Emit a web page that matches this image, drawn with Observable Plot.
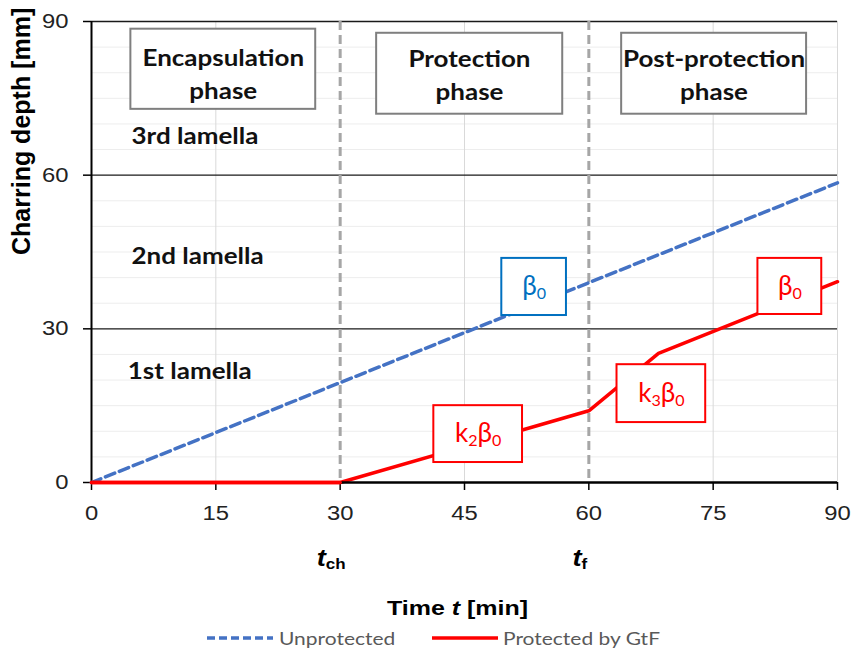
<!DOCTYPE html>
<html><head><meta charset="utf-8">
<script src="https://cdn.jsdelivr.net/npm/d3@7"></script>
<script src="https://cdn.jsdelivr.net/npm/@observablehq/plot@0.6"></script>
<style>
body{margin:0;background:#fff;}
#chart svg{display:block}
#legend{position:relative;height:31px;width:854px;font-family:Lato,"Open Sans",sans-serif;font-size:18px;line-height:20px;color:#595959;}
#legend .txt{position:absolute;top:6px;display:inline-block;transform:scaleX(1.165);transform-origin:left center;white-space:nowrap;}
#legend svg{position:absolute;top:0}
</style></head><body>
<div id="chart"></div>
<div id="legend"></div>
<script>
// ---------- data ----------
const unprotectedTime  = [0, 90];
const unprotectedDepth = [0, 58.5];
const protectedTime    = [0, 30, 60, 68.4, 90];
const protectedDepth   = [0, 0, 14, 25.2, 39.2];
const xTicks = [0, 15, 30, 45, 60, 75, 90];
const yTicks = [0, 30, 60, 90];
const lamellaBounds = [30, 60, 90];
const phaseTimes = [30, 60];
const phaseTimeLabels = ["*{t}_{ch}", "*{t}_{f}"];
const phaseNames = ["Encapsulation\nphase", "Protection\nphase", "Post-protection\nphase"];
const lamellaNames = ["3rd lamella", "2nd lamella", "1st lamella"];
const rateLabels = ["β_{0}", "k_{2}β_{0}", "k_{3}β_{0}", "β_{0}"];
const rateColors = ["#0070C0", "#FF0000", "#FF0000", "#FF0000"];
const seriesNames = ["Unprotected", "Protected by GtF"];
const seriesColors = ["#4472C4", "#FF0000"];

// ---------- annotation placement (data units: time, depth) ----------
const phaseBoxT1 = [4.75, 34.4, 63.96], phaseBoxT2 = [27.05, 56.85, 86.27];
const phaseBoxD1 = [72.85, 71.9, 71.9], phaseBoxD2 = [88.5, 87.7, 87.7];
const phaseTextT = [15.9, 45.6, 75.1], phaseTextD = [85.96, 85.76, 85.76];
const lamellaT = [4.83, 4.83, 4.38], lamellaD = [67.57, 44.14, 21.69];
const rateBoxT1 = [49.5, 41.3, 63.4, 80.4], rateBoxT2 = [57.3, 52.0, 74.1, 88.1];
const rateBoxD1 = [32.6, 3.9, 11.7, 32.8], rateBoxD2 = [43.75, 15.0, 23.0, 43.75];

// ---------- tables ----------
const unprotected = unprotectedTime.map((t, i) => ({t, depth: unprotectedDepth[i]}));
const protectedSeries = protectedTime.map((t, i) => ({t, depth: protectedDepth[i]}));
const phases = phaseNames.map((name, i) => ({name, t1: phaseBoxT1[i], t2: phaseBoxT2[i], d1: phaseBoxD1[i], d2: phaseBoxD2[i], tc: phaseTextT[i], dc: phaseTextD[i]}));
const lamellas = lamellaNames.map((name, i) => ({name, t: lamellaT[i], d: lamellaD[i]}));
const rates = rateLabels.map((label, i) => ({label, color: rateColors[i], t1: rateBoxT1[i], t2: rateBoxT2[i], d1: rateBoxD1[i], d2: rateBoxD2[i], tc: (rateBoxT1[i] + rateBoxT2[i]) / 2, dc: (rateBoxD1[i] + rateBoxD2[i]) / 2}));
const boundaries = phaseTimes.map((t, i) => ({t, label: phaseTimeLabels[i]}));
const minorGrid = d3.range(5, 90, 5).filter(v => v % 30 !== 0);
const vGrid = xTicks.filter(v => v !== 0 && (v % 30 !== 0 || v === 90));

const SANS = "'Liberation Sans', Arial, sans-serif";
const CAL = "Lato, 'Open Sans', sans-serif";

const chart = Plot.plot({
  width: 854, height: 622,
  marginTop: 21, marginBottom: 140, marginLeft: 91, marginRight: 17,
  style: {fontFamily: SANS, background: "white", overflow: "visible"},
  x: {domain: [0, 90]},
  y: {domain: [0, 90]},
  marks: [
    Plot.ruleY(minorGrid, {stroke: "#ededed", strokeWidth: 1}),
    Plot.ruleX(vGrid, {stroke: "#d9d9d9", strokeWidth: 1}),
    Plot.ruleY(lamellaBounds, {stroke: "#1a1a1a", strokeWidth: 1.3}),
    Plot.ruleX(phaseTimes, {stroke: "#a6a6a6", strokeWidth: 3, strokeDasharray: "9,5"}),
    Plot.axisY(yTicks, {tickSize: 8, tickPadding: 15, fontSize: 20, stroke: "#000", strokeWidth: 1.5, fill: "#222", label: null}),
    Plot.axisX(xTicks, {tickSize: 8, tickPadding: 15, fontSize: 20, stroke: "#000", strokeWidth: 1.5, fill: "#222", label: null}),
    Plot.ruleX([0], {stroke: "#000", strokeWidth: 2}),
    Plot.line(unprotected, {x: "t", y: "depth", stroke: seriesColors[0], strokeWidth: 3.5, strokeDasharray: "10,5"}),
    Plot.line(protectedSeries, {x: "t", y: "depth", stroke: seriesColors[1], strokeWidth: 3.5}),
    Plot.ruleY([0], {stroke: "#000", strokeWidth: 2.5}),
    Plot.line(protectedSeries.slice(0, 2), {x: "t", y: "depth", stroke: seriesColors[1], strokeWidth: 3.5}),
    Plot.rect(phases, {x1: "t1", x2: "t2", y1: "d1", y2: "d2", fill: "white", stroke: "#7f7f7f", strokeWidth: 2}),
    Plot.text(phases, {x: "tc", y: "dc", text: "name", lineAnchor: "top", fontFamily: CAL, fontWeight: "bold", fontSize: 23, lineHeight: 1.45, fill: "#111"}),
    Plot.text(lamellas, {x: "t", y: "d", text: "name", textAnchor: "start", fontFamily: CAL, fontWeight: "bold", fontSize: 23, fill: "#111"}),
    Plot.rect(rates, {x1: "t1", x2: "t2", y1: "d1", y2: "d2", fill: "white", stroke: "color", strokeWidth: 2}),
    Plot.text(rates, {x: "tc", y: "dc", text: "label", fill: "color", fontFamily: CAL, fontSize: 26}),
    Plot.text(boundaries, {x: "t", frameAnchor: "bottom", dy: 83, dx: -9, text: "label", fontFamily: SANS, fontWeight: "bold", fontSize: 23, fill: "#000"}),
    Plot.text(["Time *{t} [min]"], {frameAnchor: "bottom", dx: -7, dy: 132, fontFamily: SANS, fontWeight: "bold", fontSize: 21, fill: "#000"}),
    Plot.text(["Charring depth [mm]"], {frameAnchor: "left", rotate: -90, dx: -70, dy: 3, fontFamily: SANS, fontWeight: "bold", fontSize: 25, fill: "#000"})
  ]
});
document.getElementById("chart").appendChild(chart);

// rich text (sub/italic) and horizontal stretch as in the reference
const NS = "http://www.w3.org/2000/svg";
function stretchFor(el) {
  const cs = getComputedStyle(el);
  const fam = cs.fontFamily, fs = parseFloat(cs.fontSize);
  if (/Lato/.test(fam)) return fs >= 25 ? 1.0 : 1.13;
  if (fs >= 25) return 1.0;
  return 1.19;
}
d3.select(chart).selectAll("text").each(function () {
  const el = this;
  const s = el.textContent;
  const S = stretchFor(el);
  if (!el.querySelector("tspan") && /[_*]\{/.test(s)) {
    const fs = parseFloat(getComputedStyle(el).fontSize);
    el.textContent = "";
    const re = /([_*])\{([^}]*)\}|([^_*]+)/g;
    let m, shift = 0;
    while ((m = re.exec(s))) {
      const ts = document.createElementNS(NS, "tspan");
      if (m[1] === "_") {
        ts.textContent = m[2];
        ts.setAttribute("font-size", (fs * 0.62).toFixed(1));
        ts.setAttribute("font-style", "normal");
        const want = fs * 0.15;
        if (want - shift !== 0) ts.setAttribute("dy", (want - shift).toFixed(1));
        shift = want;
      } else {
        ts.textContent = m[1] === "*" ? m[2] : m[3];
        if (m[1] === "*") ts.setAttribute("font-style", "italic");
        if (shift) ts.setAttribute("dy", (-shift).toFixed(1));
        shift = 0;
      }
      el.appendChild(ts);
    }
  }
  if (S === 1) return;
  const tf = el.getAttribute("transform") || "";
  const mm = tf.match(/^\s*translate\([^)]*\)/);
  if (mm) el.setAttribute("transform", mm[0] + ` scale(${S},1)` + tf.slice(mm[0].length));
  else {
    const x = +el.getAttribute("x") || 0, y = +el.getAttribute("y") || 0;
    el.setAttribute("transform", `translate(${x},${y}) scale(${S},1) translate(${-x},${-y}) ${tf}`);
  }
});

// legend
const legend = d3.select("#legend");
const items = [
  {name: seriesNames[0], color: seriesColors[0], dash: "8,4", lx: 207, tx: 279},
  {name: seriesNames[1], color: seriesColors[1], dash: null, lx: 432, tx: 503}
];
for (const it of items) {
  const sv = legend.append("svg").attr("width", 66).attr("height", 31).style("left", it.lx + "px");
  sv.append("line").attr("x1", 0).attr("x2", 66).attr("y1", 16).attr("y2", 16)
    .attr("stroke", it.color).attr("stroke-width", 3.5).attr("stroke-dasharray", it.dash);
  legend.append("span").attr("class", "txt").style("left", it.tx + "px").text(it.name);
}
</script>
</body></html>
